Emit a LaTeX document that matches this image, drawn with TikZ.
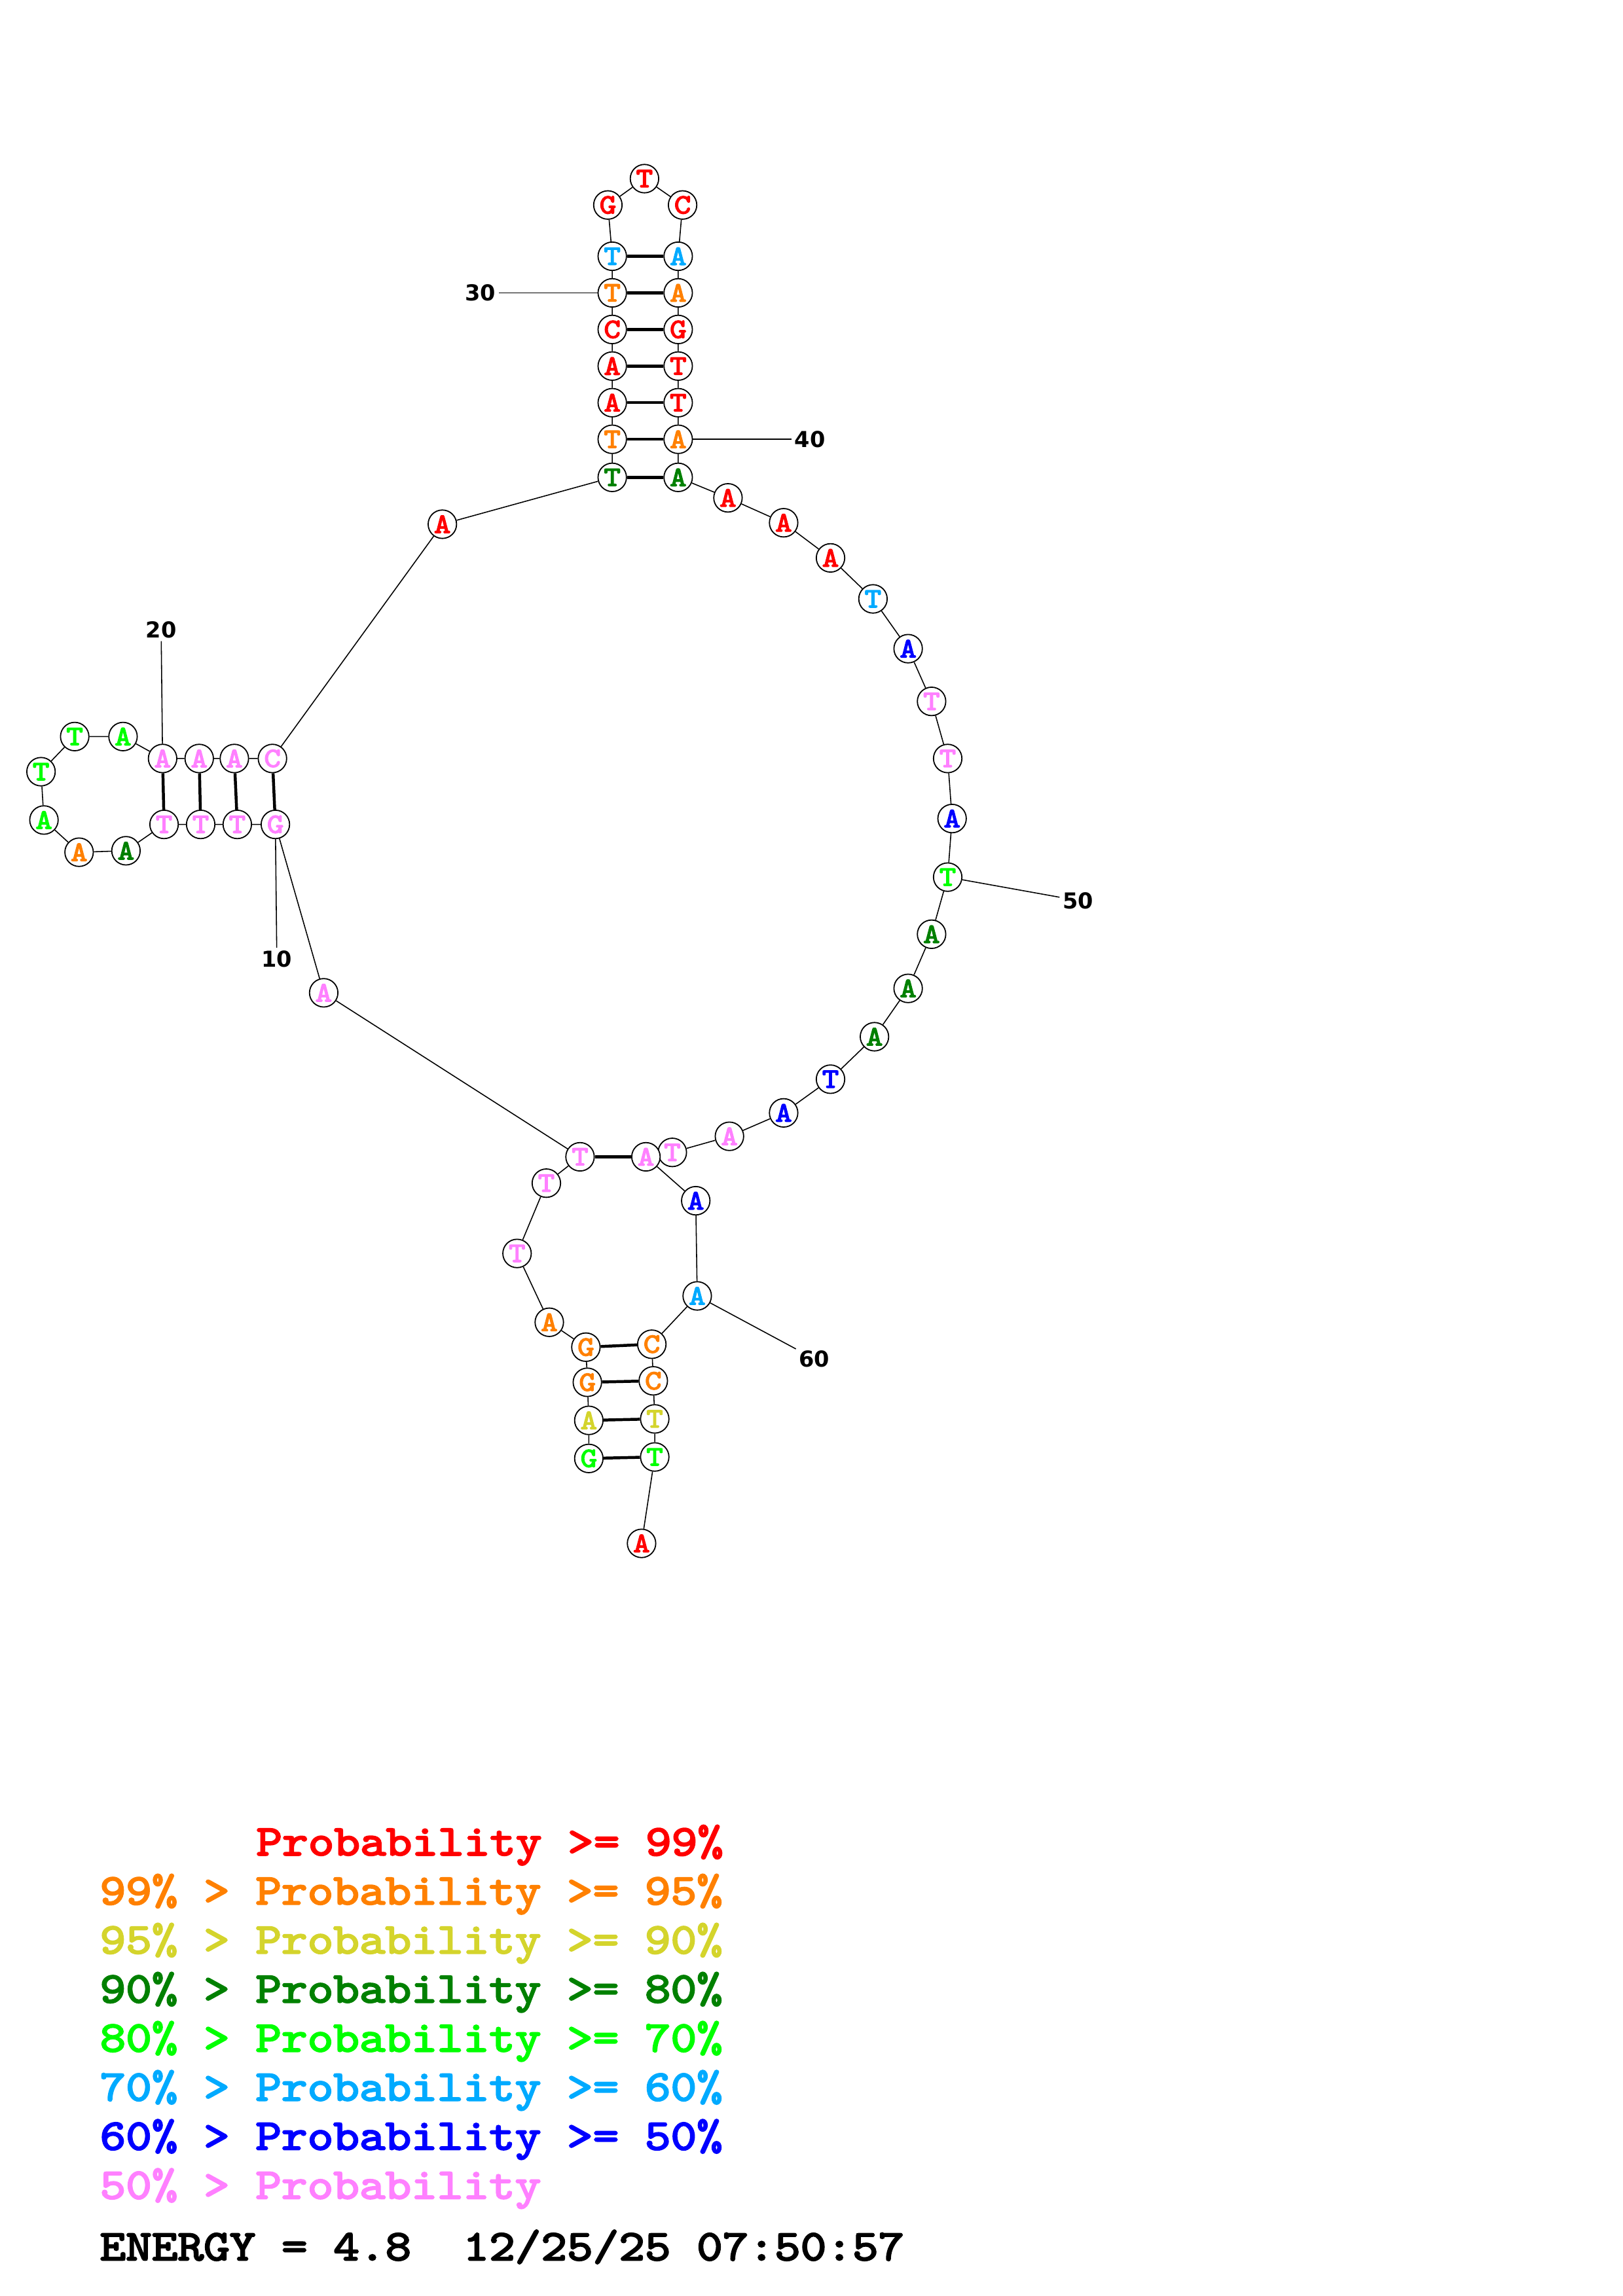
\documentclass[tikz,border=0pt]{standalone}
\usepackage{fontspec}
\usepackage{tikz}
\usetikzlibrary{backgrounds}
\newfontfamily\nucfont{lmmono10-regular.otf}[FakeBold=3.5, FakeStretch=1.14]
\newfontfamily\numfont{DejaVu Sans}
\definecolor{probred}{HTML}{FF0000}
\definecolor{probora}{HTML}{FF8000}
\definecolor{probyel}{HTML}{D4D42C}
\definecolor{probdkg}{HTML}{008000}
\definecolor{probgrn}{HTML}{00FF00}
\definecolor{probcyn}{HTML}{00AAFF}
\definecolor{problue}{HTML}{0000FF}
\definecolor{probpnk}{HTML}{FF80FF}
\tikzset{
  nt/.style={circle, draw=black, line width=0.8pt, fill=white, inner sep=0pt,
             minimum size=19.4pt, font=\nucfont\fontsize{19}{19}\selectfont},
  ntred/.style={nt, text=probred},
  ntora/.style={nt, text=probora},
  ntyel/.style={nt, text=probyel},
  ntdkg/.style={nt, text=probdkg},
  ntgrn/.style={nt, text=probgrn},
  ntcyn/.style={nt, text=probcyn},
  ntblu/.style={nt, text=problue},
  ntpnk/.style={nt, text=probpnk},
  bb/.style={line width=0.7pt, draw=black},
  bond/.style={line width=2pt, draw=black},
  numlbl/.style={font=\numfont\bfseries\fontsize{15}{15}\selectfont, inner sep=2pt},
  legend/.style={font=\nucfont\fontsize{29.6}{30}\selectfont,
                 anchor=base west, inner sep=0pt},
}

\begin{document}
\begin{tikzpicture}[x=1pt, y=-1pt]
  \useasboundingbox (0,0) rectangle (1108,1568);

  % bottom helix and multiloop
  \node[ntgrn] (n1) at (402,996) {G};
  \node[ntyel] (n2) at (402,970) {A};
  \node[ntora] (n3) at (401,944) {G};
  \node[ntora] (n4) at (400,920) {G};
  \node[ntora] (n5) at (375,903) {A};
  \node[ntpnk] (n6) at (353,856) {T};
  \node[ntpnk] (n7) at (373,808) {T};
  \node[ntpnk] (n8) at (396,790) {T};
  \node[ntpnk] (n9) at (221,678) {A};
  % left hairpin
  \node[ntpnk] (n10) at (188,563) {G};
  \node[ntpnk] (n11) at (162,563) {T};
  \node[ntpnk] (n12) at (137,563) {T};
  \node[ntpnk] (n13) at (112,563) {T};
  \node[ntdkg] (n14) at (86,581) {A};
  \node[ntora] (n15) at (54,582) {A};
  \node[ntgrn] (n16) at (30,560) {A};
  \node[ntgrn] (n17) at (28,527) {T};
  \node[ntgrn] (n18) at (51,503) {T};
  \node[ntgrn] (n19) at (84,503) {A};
  \node[ntpnk] (n20) at (111,518) {A};
  \node[ntpnk] (n21) at (136,518) {A};
  \node[ntpnk] (n22) at (160,518) {A};
  \node[ntpnk] (n23) at (186,518) {C};
  \node[ntred] (n24) at (302,358) {A};
  % top hairpin
  \node[ntdkg] (n25) at (418,326) {T};
  \node[ntora] (n26) at (418,300) {T};
  \node[ntred] (n27) at (418,275) {A};
  \node[ntred] (n28) at (418,250) {A};
  \node[ntred] (n29) at (418,225) {C};
  \node[ntora] (n30) at (418,200) {T};
  \node[ntcyn] (n31) at (418,175) {T};
  \node[ntred] (n32) at (415,140) {G};
  \node[ntred] (n33) at (440,122) {T};
  \node[ntred] (n34) at (466,140) {C};
  \node[ntcyn] (n35) at (463,175) {A};
  \node[ntora] (n36) at (463,200) {A};
  \node[ntred] (n37) at (463,225) {G};
  \node[ntred] (n38) at (463,250) {T};
  \node[ntred] (n39) at (463,275) {T};
  \node[ntora] (n40) at (463,300) {A};
  \node[ntdkg] (n41) at (463,326) {A};
  % right arc
  \node[ntred] (n42) at (497,340) {A};
  \node[ntred] (n43) at (535,357) {A};
  \node[ntred] (n44) at (567,381) {A};
  \node[ntcyn] (n45) at (596,409) {T};
  \node[ntblu] (n46) at (620,443) {A};
  \node[ntpnk] (n47) at (636,479) {T};
  \node[ntpnk] (n48) at (647,518) {T};
  \node[ntblu] (n49) at (650,559) {A};
  \node[ntgrn] (n50) at (647,599) {T};
  \node[ntdkg] (n51) at (636,638) {A};
  \node[ntdkg] (n52) at (620,675) {A};
  \node[ntdkg] (n53) at (597,708) {A};
  \node[ntblu] (n54) at (567,737) {T};
  \node[ntblu] (n55) at (535,760) {A};
  \node[ntpnk] (n56) at (498,776) {A};
  \node[ntpnk] (n57) at (459,787) {T};
  \node[ntpnk] (n58) at (441,790) {A};
  \node[ntblu] (n59) at (475,820) {A};
  \node[ntcyn] (n60) at (476,885) {A};
  \node[ntora] (n61) at (445,918) {C};
  \node[ntora] (n62) at (446,943) {C};
  \node[ntyel] (n63) at (447,969) {T};
  \node[ntgrn] (n64) at (447,995) {T};
  \node[ntred] (n65) at (438,1054) {A};

  % position numbers
  \node[numlbl] (l10) at (189,655) {10};
  \node[numlbl] (l20) at (110,430) {20};
  \node[numlbl] (l30) at (328,200) {30};
  \node[numlbl] (l40) at (553,300) {40};
  \node[numlbl] (l50) at (736,615) {50};
  \node[numlbl] (l60) at (556,928) {60};

  \begin{scope}[on background layer]
    \draw[bb] (n1) -- (n2) -- (n3) -- (n4) -- (n5) -- (n6) -- (n7) -- (n8)
      -- (n9) -- (n10) -- (n11) -- (n12) -- (n13) -- (n14) -- (n15) -- (n16)
      -- (n17) -- (n18) -- (n19) -- (n20) -- (n21) -- (n22) -- (n23) -- (n24)
      -- (n25) -- (n26) -- (n27) -- (n28) -- (n29) -- (n30) -- (n31) -- (n32)
      -- (n33) -- (n34) -- (n35) -- (n36) -- (n37) -- (n38) -- (n39) -- (n40)
      -- (n41) -- (n42) -- (n43) -- (n44) -- (n45) -- (n46) -- (n47) -- (n48)
      -- (n49) -- (n50) -- (n51) -- (n52) -- (n53) -- (n54) -- (n55) -- (n56)
      -- (n57) -- (n58) -- (n59) -- (n60) -- (n61) -- (n62) -- (n63) -- (n64)
      -- (n65);
    % base pairs
    \draw[bond] (n1) -- (n64);
    \draw[bond] (n2) -- (n63);
    \draw[bond] (n3) -- (n62);
    \draw[bond] (n4) -- (n61);
    \draw[bond] (n8) -- (n58);
    \draw[bond] (n10) -- (n23);
    \draw[bond] (n11) -- (n22);
    \draw[bond] (n12) -- (n21);
    \draw[bond] (n13) -- (n20);
    \draw[bond] (n25) -- (n41);
    \draw[bond] (n26) -- (n40);
    \draw[bond] (n27) -- (n39);
    \draw[bond] (n28) -- (n38);
    \draw[bond] (n29) -- (n37);
    \draw[bond] (n30) -- (n36);
    \draw[bond] (n31) -- (n35);
    % number ticks
    \draw[bb] (n10) -- (l10);
    \draw[bb] (n20) -- (l20);
    \draw[bb] (n30) -- (l30);
    \draw[bb] (n40) -- (l40);
    \draw[bb] (n50) -- (l50);
    \draw[bb] (n60) -- (l60);
  \end{scope}

  % legend
  \node[legend, text=probred] (lg1) at (174.8,1267) {Probability >= 99\%};
  \node[legend, text=probora] (lg2) at (68,1300.5) {99\% > Probability >= 95\%};
  \node[legend, text=probyel] (lg3) at (68,1334) {95\% > Probability >= 90\%};
  \node[legend, text=probdkg] (lg4) at (68,1367.5) {90\% > Probability >= 80\%};
  \node[legend, text=probgrn] (lg5) at (68,1401) {80\% > Probability >= 70\%};
  \node[legend, text=probcyn] (lg6) at (68,1434.5) {70\% > Probability >= 60\%};
  \node[legend, text=problue] (lg7) at (68,1468) {60\% > Probability >= 50\%};
  \node[legend, text=probpnk] (lg8) at (68,1501.5) {50\% > Probability};
  \node[legend, text=black] (energy) at (68,1543.5) {ENERGY = 4.8\ \ 12/25/25 07:50:57};
\end{tikzpicture}
\end{document}
